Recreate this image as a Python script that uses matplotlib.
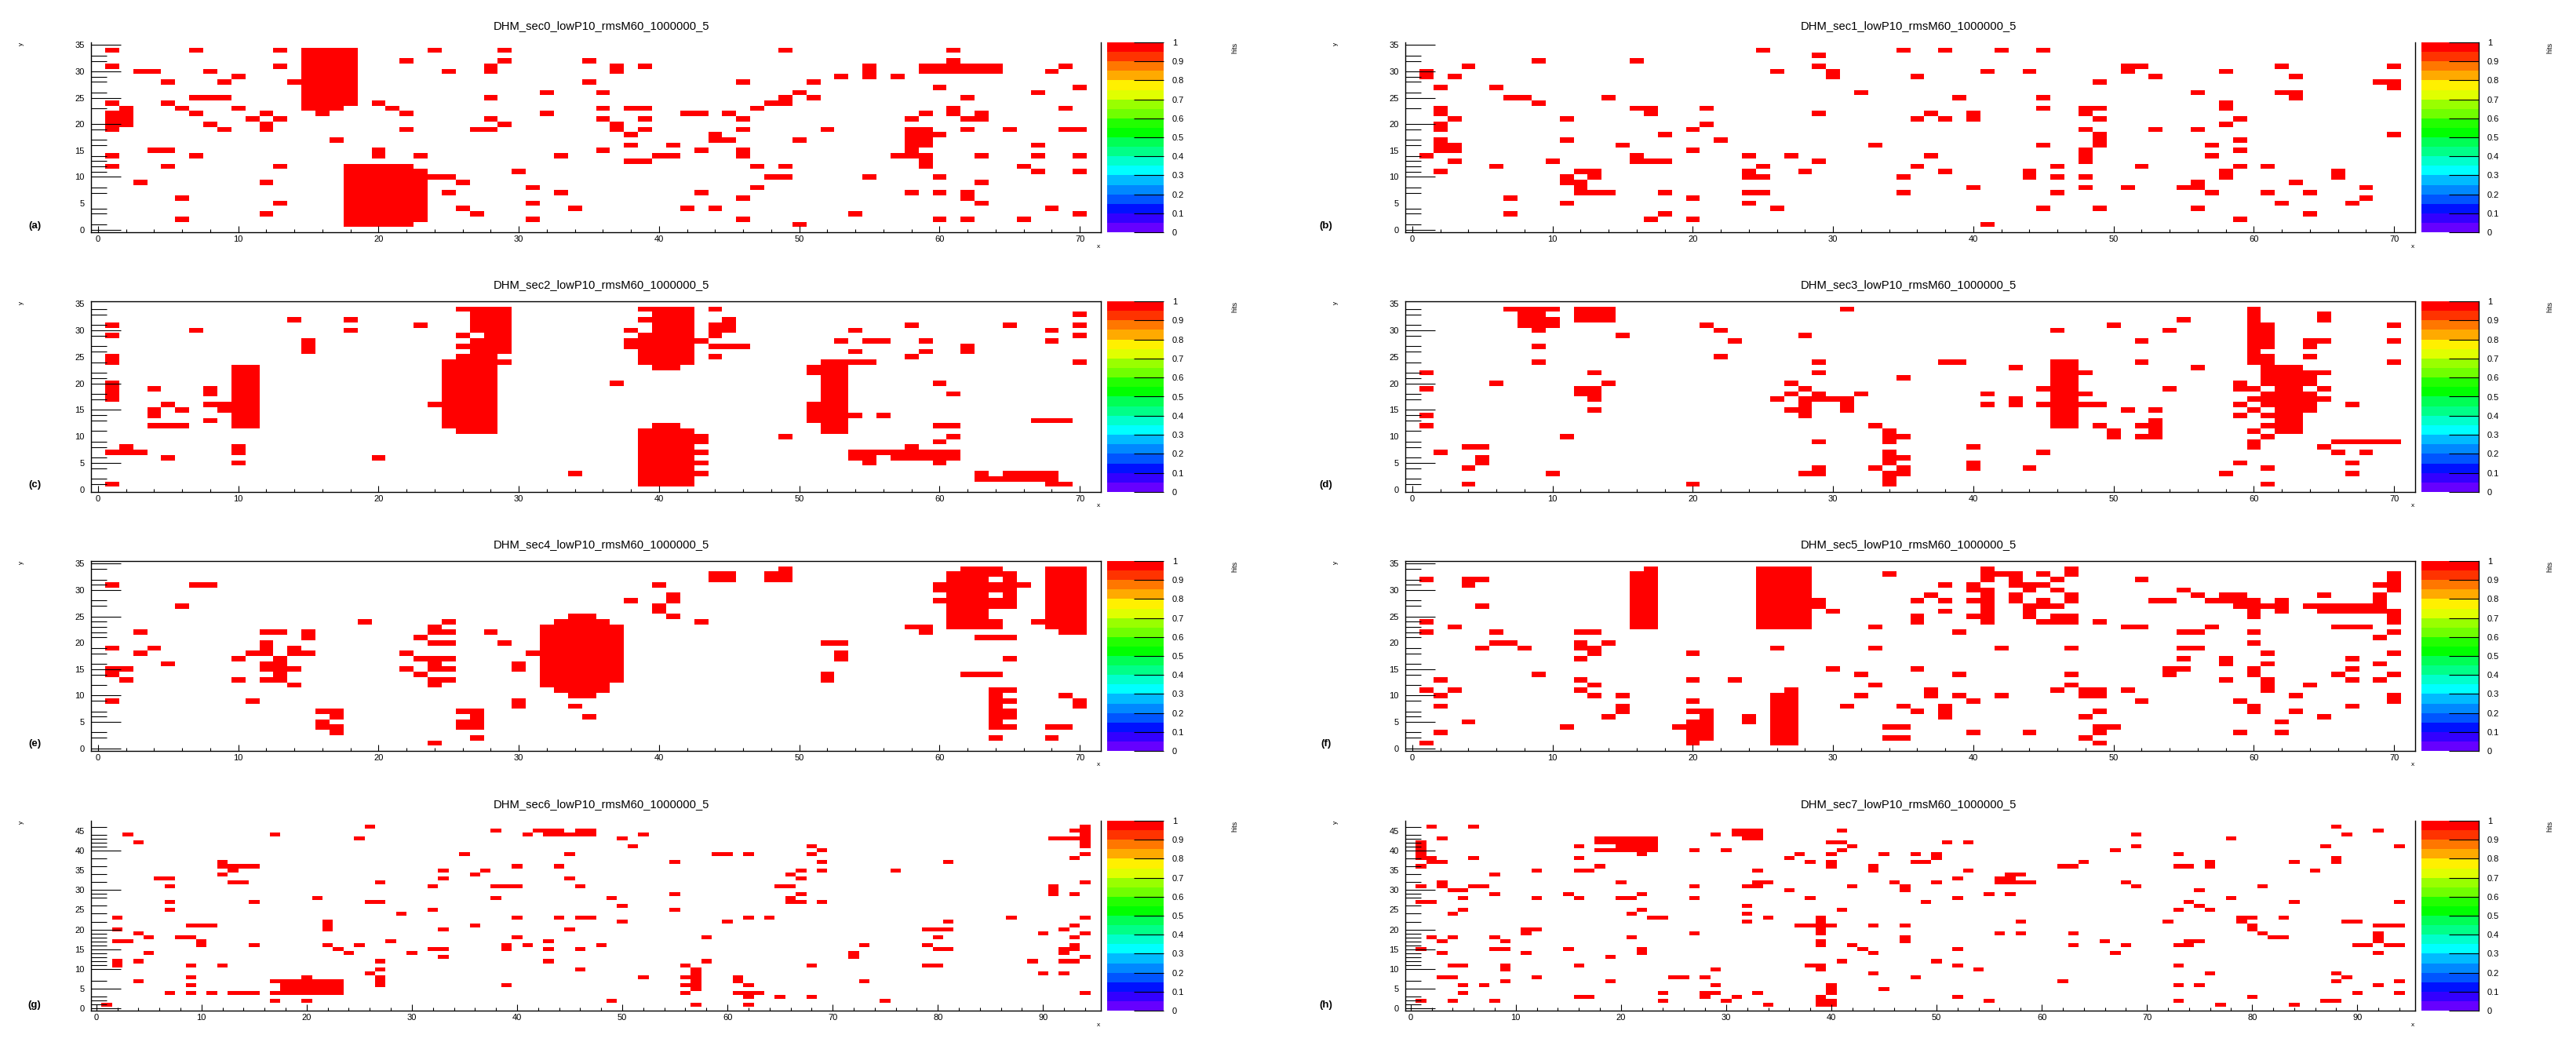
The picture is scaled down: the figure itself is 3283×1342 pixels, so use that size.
import numpy as np
import matplotlib
matplotlib.use("Agg")
import matplotlib.pyplot as plt
from matplotlib.colors import ListedColormap

plt.rcParams['font.family'] = ['Liberation Sans', 'DejaVu Sans']

# row number : columns with a hit
sec0_hits = {
    34: [1,7,13,15,16,17,18,24,29,49,61],
    33: [15,16,17,18],
    32: [15,16,17,18,22,29,35,61],
    31: [1,13,15,16,17,18,28,37,39,55,59,60,61,62,63,64,69],
    30: [3,4,8,15,16,17,18,25,28,37,55,59,60,61,62,63,64,68],
    29: [10,15,16,17,18,53,55,57],
    28: [5,9,14,15,16,17,18,35,46,51],
    27: [15,16,17,18,60,70],
    26: [15,16,17,18,32,36,50,67],
    25: [7,8,9,15,16,17,18,28,49,51,62],
    24: [1,5,15,16,17,18,20,48,49],
    23: [2,6,10,15,16,17,21,36,38,39,47,61,69],
    22: [1,2,7,12,16,22,32,42,43,45,59,61,63],
    21: [1,2,11,13,28,36,39,46,58,62,63],
    20: [1,2,8,12,29,37],
    19: [1,9,12,22,27,28,37,39,46,52,58,59,62,65,69,70],
    18: [38,44,58,59,60],
    17: [17,44,45,50,58,59],
    16: [38,41,58,59,67],
    15: [4,5,20,36,43,46,58],
    14: [1,7,20,23,33,40,41,46,57,58,59,63,67,70],
    13: [38,39,59],
    12: [1,5,13,18,19,20,21,22,47,49,59,66],
    11: [18,19,20,21,22,23,30,67,70],
    10: [18,19,20,21,22,23,24,25,48,49,55,60],
    9: [3,12,18,19,20,21,22,23,26,63],
    8: [18,19,20,21,22,23,31,47],
    7: [18,19,20,21,22,23,25,33,43,58,60,62],
    6: [6,18,19,20,21,22,23,46,62],
    5: [13,18,19,20,21,22,23,31,63],
    4: [18,19,20,21,22,23,26,34,42,44,68],
    3: [12,18,19,20,21,22,23,27,54,70],
    2: [6,18,19,20,21,22,23,31,46,60,62,66],
    1: [18,19,20,21,22,50],
}
sec1_hits = {
    34: [25,35,38,42,45],
    33: [29],
    32: [9,16],
    31: [4,29,51,52,62,70],
    30: [1,26,30,41,44,51,58],
    29: [1,3,30,36,53,63],
    28: [49,69,70],
    27: [2,6,70],
    26: [32,56,62,63],
    25: [7,8,14,39,45,63],
    24: [9,58],
    23: [2,16,17,21,45,48,49,58],
    22: [2,17,29,37,40,48],
    21: [3,11,36,38,40,49,59],
    20: [2,21,58],
    19: [2,20,48,53,56],
    18: [18,49,70],
    17: [2,11,22,49,59],
    16: [2,3,15,33,45,49,57],
    15: [2,3,20,48,59],
    14: [1,16,24,27,37,48,57],
    13: [3,10,16,17,18,29,48],
    12: [6,25,36,46,52,59,61],
    11: [2,12,13,24,28,38,44,58,66],
    10: [11,13,24,25,35,44,46,48,58,66],
    9: [11,12,56,63],
    8: [12,40,48,51,55,56,68],
    7: [12,13,14,18,24,25,35,46,57,61,64],
    6: [7,20,68],
    5: [11,24,62,67],
    4: [26,45,49,56],
    3: [7,18,64],
    2: [17,20,59],
    1: [41],
}
sec2_hits = {
    34: [26,27,28,29,39,40,41,42,44],
    33: [27,28,29,40,41,42,70],
    32: [14,18,27,28,29,39,40,41,42,45],
    31: [1,23,27,28,29,40,41,42,44,45,58,65,70],
    30: [7,18,27,28,29,38,40,41,42,44,45,54,68],
    29: [1,26,28,29,39,40,41,42,44,70],
    28: [15,27,28,29,38,39,40,41,42,43,53,55,56,59,68],
    27: [15,26,27,28,29,38,39,40,41,42,44,45,46,62],
    26: [15,27,28,29,39,40,41,42,54,59,62],
    25: [1,26,27,28,39,40,41,42,44,58],
    24: [1,25,26,27,28,29,39,40,41,42,52,53,54,55,70],
    23: [10,11,25,26,27,28,40,41,51,52,53],
    22: [10,11,25,26,27,28,51,52,53],
    21: [10,11,25,26,27,28,52,53],
    20: [1,10,11,25,26,27,28,37,52,53,60],
    19: [1,4,8,10,11,25,26,27,28,52,53],
    18: [1,8,10,11,25,26,27,28,52,53,61],
    17: [1,10,11,25,26,27,28,52,53],
    16: [5,8,9,10,11,24,25,26,27,28,51,52,53],
    15: [4,6,9,10,11,25,26,27,28,51,52,53],
    14: [4,10,11,25,26,27,28,51,52,53,54,56],
    13: [8,10,11,25,26,27,28,51,52,53,67,68,69],
    12: [4,5,6,10,11,25,26,27,28,40,41,52,53,60,61],
    11: [26,27,28,39,40,41,42,52,53],
    10: [39,40,41,42,43,49,61],
    9: [39,40,41,42,43,60],
    8: [2,10,39,40,41,42,58],
    7: [1,2,3,10,39,40,41,42,43,54,55,56,57,58,59,60,61],
    6: [5,20,39,40,41,42,54,55,57,58,59,60,61],
    5: [10,39,40,41,42,43,55,60],
    4: [39,40,41,42],
    3: [34,39,40,41,42,43,63,65,66,67,68],
    2: [39,40,41,42,63,64,65,66,67,68],
    1: [1,39,40,41,42,68,69],
}
sec3_hits = {
    34: [7,8,9,10,12,13,14,31,60],
    33: [8,9,12,13,14,60,65],
    32: [8,9,10,12,13,14,55,60,65],
    31: [8,9,10,21,50,60,61,70],
    30: [9,22,46,54,60,61],
    29: [15,28,60,61],
    28: [23,52,60,61,64,65,70],
    27: [9,60,61,64],
    26: [60],
    25: [22,60,61,64],
    24: [9,29,38,39,46,47,52,60,61,70],
    23: [43,46,47,56,61,62,63],
    22: [1,13,29,46,47,48,61,62,63,64,65],
    21: [35,46,47,61,62,63,64],
    20: [6,14,27,46,47,59,61,62,63,64],
    19: [1,12,13,28,45,46,47,54,59,60,62,63,65],
    18: [12,13,27,29,32,41,46,47,48,61,62,63,64],
    17: [13,26,28,29,30,31,43,46,47,60,61,62,63,64,65],
    16: [28,31,41,43,45,46,47,48,49,59,61,62,63,64,67],
    15: [13,27,28,31,46,47,51,53,60,62,63,64],
    14: [1,28,46,47,59,61,62,63],
    13: [46,47,53,62,63],
    12: [1,33,46,47,49,52,53,61,62,63],
    11: [34,50,53,60,62,63],
    10: [11,34,35,50,52,53,61],
    9: [29,34,60,66,67,68,69,70],
    8: [4,5,40,60,65],
    7: [2,34,45,66,68],
    6: [5,34,35],
    5: [5,34,40,59,67],
    4: [4,29,33,35,40,44,61],
    3: [10,28,29,34,35,58,67],
    2: [34],
    1: [4,20,34,61],
}
sec4_hits = {
    34: [49,62,63,64,68,69,70],
    33: [44,45,48,49,61,62,63,64,65,68,69,70],
    32: [44,45,48,49,61,62,63,65,68,69,70],
    31: [1,7,8,40,60,61,62,63,64,65,66,68,69,70],
    30: [60,61,62,63,64,65,68,69,70],
    29: [41,61,62,63,65,68,69,70],
    28: [38,41,60,61,62,63,64,65,68,69,70],
    27: [6,40,61,62,63,64,65,68,69,70],
    26: [40,61,62,63,68,69,70],
    25: [34,35,41,61,62,63,68,69,70],
    24: [19,25,33,34,35,36,43,61,62,63,64,67,68,69,70],
    23: [24,32,33,34,35,36,37,58,59,61,62,63,64,68,69,70],
    22: [3,12,13,15,24,25,28,32,33,34,35,36,37,59,69,70],
    21: [15,23,32,33,34,35,36,37,63,64,65],
    20: [12,24,25,29,32,33,34,35,36,37,52,53],
    19: [1,4,12,14,32,33,34,35,36,37],
    18: [3,11,12,14,15,22,31,32,33,34,35,36,37,53],
    17: [10,13,23,24,25,32,33,34,35,36,37,53,65],
    16: [5,12,13,24,30,32,33,34,35,36,37],
    15: [1,2,12,13,14,22,24,25,30,32,33,34,35,36,37],
    14: [1,13,23,32,33,34,35,36,37,52,62,63,64],
    13: [2,10,12,13,24,25,32,33,34,35,36,37,52],
    12: [14,24,32,33,34,35,36],
    11: [33,34,35,36,64,65],
    10: [34,35,64,69],
    9: [1,11,30,64,65,70],
    8: [30,34,64,70],
    7: [16,17,26,27,64,65],
    6: [17,27,35,64,65],
    5: [16,26,27,64],
    4: [16,17,26,27,64,65,68,69],
    3: [17],
    2: [27,64,68],
    1: [24],
}
sec5_hits = {
    34: [17,25,26,27,28,41,47],
    33: [16,17,25,26,27,28,34,41,42,43,45,47,70],
    32: [1,4,5,16,17,25,26,27,28,41,43,46,52,70],
    31: [4,16,17,25,26,27,28,38,40,43,44,45,69,70],
    30: [16,17,25,26,27,28,40,41,44,46,55,70],
    29: [16,17,25,26,27,28,37,41,43,47,56,58,59,65,69],
    28: [16,17,25,26,27,28,29,36,38,40,41,43,45,47,53,54,57,58,59,60,62,69],
    27: [5,16,17,25,26,27,28,29,41,44,45,46,59,60,61,62,64,65,66,67,68,69],
    26: [16,17,25,26,27,28,30,38,41,44,60,62,65,66,67,68,69,70],
    25: [16,17,25,26,27,28,36,40,41,44,46,47,60,70],
    24: [1,16,17,25,26,27,28,36,41,45,46,47,49,70],
    23: [3,16,17,25,26,27,28,33,51,52,57,66,67,68],
    22: [1,6,12,13,39,55,56,60,70],
    21: [69],
    20: [6,7,12,14,60],
    19: [5,8,12,13,26,33,42,47,55,56],
    18: [13,20,61,70],
    17: [12,55,58,67],
    16: [58,61,69],
    15: [30,36,54,55,60,67],
    14: [9,32,39,47,54,60,66,70],
    13: [2,12,20,23,58,61,67,69],
    12: [13,33,47,61,64],
    11: [1,3,12,27,37,46,48,49,51,61],
    10: [2,13,15,26,27,32,37,39,42,48,49,63,70],
    9: [20,26,27,40,52,59,70],
    8: [2,15,26,27,31,35,38,60,67],
    7: [15,20,21,26,27,36,38,49,60,63],
    6: [14,21,24,26,27,38,48,65],
    5: [4,20,21,24,26,27,62],
    4: [11,19,20,21,26,27,34,35,49,50],
    3: [2,20,21,26,27,40,44,49,59,62],
    2: [20,21,26,27,34,35,48],
    1: [1,20,26,27,49],
}
sec6_hits = {
    46: [26,94],
    45: [38,42,43,44,46,47,93,94],
    44: [3,17,41,43,44,45,46,47,52,94],
    43: [25,50,91,92,93,94],
    42: [4,94],
    41: [51,68,94],
    40: [69],
    39: [35,45,59,60,62,68,94],
    38: [93],
    37: [12,55,69,81],
    36: [12,13,14,15,40,44],
    35: [13,33,37,67,69,76],
    34: [12,36,66],
    33: [6,7,33,45,67],
    32: [13,14,27,94],
    31: [7,32,38,39,40,46,65,66,91],
    30: [91],
    29: [55,67,91,93],
    28: [21,38,49,66],
    27: [7,15,26,27,66,67,69],
    26: [50],
    25: [7,32,55],
    24: [29],
    23: [2,40,44,46,47,62,64,87,94],
    22: [22,50,60,81],
    21: [9,10,11,22,36,93],
    20: [2,22,33,45,79,80,81,92],
    19: [4,90,94],
    18: [5,8,9,40,58,80,93],
    17: [2,3,10,28,43],
    16: [10,15,22,25,39,41,48,73,79,93],
    15: [23,32,33,39,43,46,80,81,92,93],
    14: [5,24,30,72,92],
    13: [33,72,94],
    12: [2,4,27,43,58,89,92,93],
    11: [2,9,12,56,68,79,80],
    10: [27,46,57],
    9: [26,57,90,92],
    8: [9,20,27,52,56,57,61],
    7: [4,17,18,19,20,21,22,23,27,57,61,73],
    6: [9,18,19,20,21,22,23,27,39,56,57,62],
    5: [18,19,20,21,22,23,57],
    4: [7,9,11,13,14,15,17,18,19,20,21,22,23,56,61,62,63,94],
    3: [62,65,68],
    2: [17,20,49,75],
    1: [1,57,62],
}
sec7_hits = {
    46: [2,6,88],
    45: [31,32,33,41,92],
    44: [29,31,32,33,69,89],
    43: [3,18,19,20,21,22,23,32,33,78],
    42: [1,18,19,20,21,22,23,40,41,51,53],
    41: [1,16,20,21,22,23,42,69,87,94],
    40: [1,18,19,20,21,22,23,27,30,41,67],
    39: [1,22,37,40,45,48,50,73],
    38: [1,2,6,16,36,50,88],
    37: [2,3,38,40,48,49,64,76,84,88],
    36: [1,18,40,44,62,63,73,74,76],
    35: [12,16,17,33,44,53,86],
    34: [8,57,58],
    33: [52,56,57],
    32: [3,20,33,34,46,50,56,57,58,59,68],
    31: [1,3,6,7,27,32,33,42,47,69,81],
    30: [4,5,36,47,75],
    29: [8,15,22,55,57],
    28: [5,12,16,20,21,27,38,52,78],
    27: [1,2,49,74,84,94],
    26: [32,75],
    25: [5,22,41,73,76],
    24: [4,21,32],
    23: [23,24,34,39,79,80,83],
    22: [32,39,58,72,79,89,90],
    21: [37,38,39,40,44,47,80,92,93,94],
    20: [11,12,39,80],
    19: [11,27,39,56,58,63,81,92],
    18: [2,4,8,21,47,82,83,92],
    17: [3,9,39,47,66,74,75,92],
    16: [39,42,63,68,73,74,90,91,93,94],
    15: [1,8,9,15,22,43,52],
    14: [3,11,22,44,67,92],
    13: [19],
    12: [41,50],
    11: [4,5,9,16,38,39,52,73],
    10: [9,29,39,54],
    9: [44,76,88],
    8: [3,4,12,25,26,28,48,89],
    7: [9,19,62,88,94],
    6: [5,7,29,40,73,75,92],
    5: [40,45],
    4: [5,24,28,29,33,40,90,94],
    3: [16,17,28,31,39,52,80],
    2: [1,4,8,24,30,39,40,55,73,87,88],
    1: [34,39,40,77,84],
}

titles = ["DHM_sec%d_lowP10_rmsM60_1000000_5" % i for i in range(8)]
tags = ["(a)", "(b)", "(c)", "(d)", "(e)", "(f)", "(g)", "(h)"]
all_hits = [sec0_hits, sec1_hits, sec2_hits, sec3_hits, sec4_hits, sec5_hits, sec6_hits, sec7_hits]

# y ticks actually visible on each row of panels
yticks_row0 = [35,33,32,30,29,28,26,25,23,20,19,17,16,14,13,12,11,10,8,7,4,3,1,0]
yticks_row1 = [34,33,31,30,29,27,26,24,22,21,20,18,17,15,14,13,11,9,8,6,5,4,2,1]
yticks_row2 = [35,34,32,31,30,28,27,25,24,23,22,21,19,18,16,15,14,12,10,9,7,6,5,3,2,0]
yticks_row3 = [46,44,43,42,41,40,38,36,34,32,30,29,28,26,24,22,20,19,18,17,16,15,14,13,12,11,10,7,5,3,2,1,0]
row_ticks = [yticks_row0, yticks_row1, yticks_row2, yticks_row3]

palette = ["#6600ff", "#3300ff", "#0011ff", "#0055ff", "#0088ff", "#00bbff", "#00ffff",
           "#00ffcc", "#00ff88", "#00ff55", "#00ff00", "#22ff00", "#70ff00", "#99ff00",
           "#e0ff00", "#fff000", "#ffaa00", "#ff7700", "#ff3300", "#ff0000"]
cbar_ticks = [0, 0.1, 0.2, 0.3, 0.4, 0.5, 0.6, 0.7, 0.8, 0.9, 1]
cbar_labels = ["0", "0.1", "0.2", "0.3", "0.4", "0.5", "0.6", "0.7", "0.8", "0.9", "1"]

W, H = 3283, 1342
PX = 72 / 100.0  # pixels to points at dpi 100
cmap = ListedColormap(palette)

row_top = [54, 384, 715, 1046]
row_bot = [296, 627, 957, 1288]
col_left = [116, 1791]
col_right = [1403, 3078]
cb_left = [1411, 3086]
cb_right = [1483, 3159]
title_x = [766, 2432]
tag_x = [44, 1690]
tag_y = [288, 618, 948, 1281]


def box(l, t, r, b):
    return [l / W, 1 - b / H, (r - l) / W, (b - t) / H]


def makeGrid(hits, nx, ny):
    grid = np.full((ny, nx), np.nan)
    for row, cols in hits.items():
        for c in cols:
            grid[row, c] = 1.0
    return grid


fig = plt.figure(figsize=(W / 100, H / 100), dpi=100)

for i, hits in enumerate(all_hits):
    row, col = i // 2, i % 2
    nx, ny = (96, 48) if row == 3 else (72, 36)
    ax = fig.add_axes(box(col_left[col], row_top[row], col_right[col], row_bot[row]))
    mesh = ax.pcolormesh(np.arange(nx + 1) - 0.5, np.arange(ny + 1) - 0.5,
                         makeGrid(hits, nx, ny), cmap=cmap, vmin=0, vmax=1,
                         antialiased=False, linewidth=0)
    ax.set_xlim(-0.5, nx - 0.5)
    ax.set_ylim(-0.5, ny - 0.5)
    ax.spines['top'].set_visible(row in (1, 2))
    for s in ax.spines.values():
        s.set_linewidth(1.0)

    ax.set_xticks(np.arange(0, nx, 10))
    ax.set_xticks([v for v in range(0, nx, 2) if v % 10], minor=True)
    ax.tick_params(axis='x', which='major', direction='in', length=8 * PX, width=0.8,
                   labelsize=8, pad=3)
    ax.tick_params(axis='x', which='minor', direction='in', length=4 * PX, width=0.8)

    # labels at every 5, long line only where the picture shows one
    visible = row_ticks[row]
    fives = list(range(0, ny, 5))
    ax.set_yticks(fives)
    ax.set_yticks([v for v in visible if v % 5], minor=True)
    ax.tick_params(axis='y', which='major', direction='in', length=38 * PX, width=0.8,
                   labelsize=8, pad=6)
    ax.tick_params(axis='y', which='minor', direction='in', length=20 * PX, width=0.8)
    for v, tick in zip(fives, ax.yaxis.get_major_ticks()):
        if v not in visible:
            tick.tick1line.set_visible(False)

    cax = fig.add_axes(box(cb_left[col], row_top[row], cb_right[col], row_bot[row]))
    cb = fig.colorbar(mesh, cax=cax)
    cb.outline.set_visible(False)
    cb.set_ticks(cbar_ticks)
    cb.set_ticklabels(cbar_labels)
    cax.tick_params(direction='in', length=38 * PX, width=0.8, labelsize=8, pad=8)
    cax.minorticks_off()
    if col == 1:
        cax.spines['right'].set_visible(True)
        cax.spines['right'].set_linewidth(1.0)

    fig.text(title_x[col] / W, 1 - (row_top[row] - 21) / H, titles[i], fontsize=10.6,
             ha='center', va='center')
    fig.text(tag_x[col] / W, 1 - tag_y[row] / H, tags[i], fontsize=9.5, fontweight='bold',
             ha='center', va='center')
    fig.text((col_left[col] - 89) / W, 1 - (row_top[row] + 2) / H, "y", fontsize=6,
             rotation=90, ha='center', va='center')
    fig.text((col_right[col] - 3) / W, 1 - (row_bot[row] + 18) / H, "x", fontsize=6,
             ha='center', va='center')
    fig.text((cb_right[col] + 91) / W, 1 - (row_top[row] + 7) / H, "hits", fontsize=6.5,
             rotation=90, ha='center', va='center')

fig.savefig("out.png", dpi=100, facecolor='white')
